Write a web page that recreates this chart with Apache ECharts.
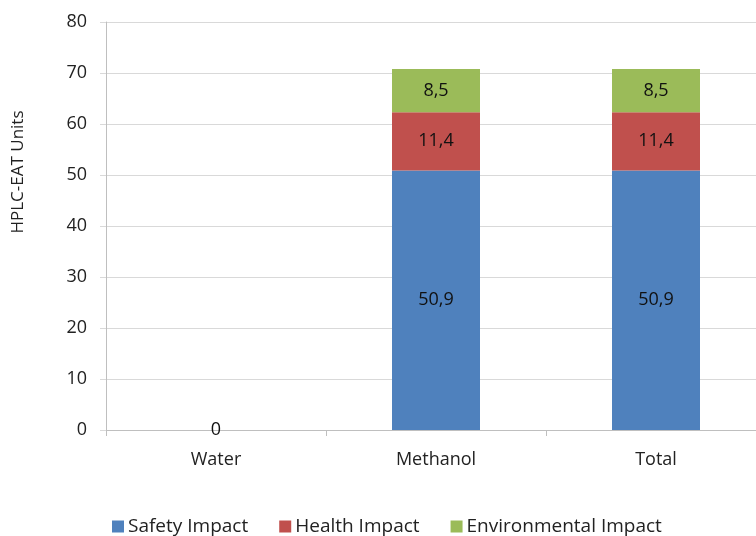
<!DOCTYPE html>
<html>
<head>
<meta charset="utf-8">
<script src="https://cdn.jsdelivr.net/npm/echarts@6/dist/echarts.min.js"></script>
<style>
html,body{margin:0;padding:0;background:#fff;overflow:hidden;}
#chart{width:766px;height:536px;}
</style>
</head>
<body>
<div id="chart"></div>
<script>
// Solvent impact breakdown (HPLC-EAT units)
const categories = ['Water', 'Methanol', 'Total'];
const safetyImpact = [0, 50.9, 50.9];
const healthImpact = [0, 11.4, 11.4];
const environmentalImpact = [0, 8.5, 8.5];
const yTicks = [0, 10, 20, 30, 40, 50, 60, 70, 80];
const yTitle = 'HPLC-EAT Units';

const FONT = '"Open Sans", "Liberation Sans", sans-serif';
const fmt = v => String(v).replace('.', ',');

function labelCfg(showZero) {
  return {
    show: true,
    position: 'inside',
    color: '#111',
    fontFamily: FONT,
    fontSize: 18,
    formatter: p => {
      if (p.value === 0) return showZero ? '0' : '';
      return fmt(p.value);
    }
  };
}

const chart = echarts.init(document.getElementById('chart'), null, { renderer: 'canvas' });
chart.setOption({
  animation: false,
  textStyle: { fontFamily: FONT },
  grid: { left: 106, top: 22, right: 0, bottom: 106, containLabel: false },
  graphic: [{
    type: 'text',
    x: 18,
    y: 172,
    rotation: Math.PI / 2,
    style: {
      text: yTitle,
      fill: '#222',
      font: '17px ' + FONT,
      textAlign: 'center',
      textVerticalAlign: 'middle'
    }
  }],
  legend: {
    top: 517,
    left: 112,
    padding: 0,
    itemWidth: 12,
    itemHeight: 12,
    itemGap: 31,
    icon: 'rect',
    textStyle: { fontFamily: FONT, fontSize: 19, color: '#222', padding: [0, 0, 0, -1] },
    data: ['Safety Impact', 'Health Impact', 'Environmental Impact']
  },
  xAxis: {
    type: 'category',
    data: categories,
    axisLine: { lineStyle: { color: '#BFBFBF', width: 1 } },
    axisTick: { show: true, length: 6, lineStyle: { color: '#BFBFBF' } },
    axisLabel: { color: '#222', fontFamily: FONT, fontSize: 18, margin: 21 }
  },
  yAxis: {
    type: 'value',
    min: yTicks[0],
    max: yTicks[yTicks.length - 1],
    interval: 10,
    axisLine: { show: true, lineStyle: { color: '#BFBFBF' } },
    axisTick: { show: true, length: 6, lineStyle: { color: '#D9D9D9' } },
    axisLabel: { color: '#222', fontFamily: FONT, fontSize: 18, margin: 19 },
    splitLine: { lineStyle: { color: '#D9D9D9' } }
  },
  series: [
    {
      name: 'Safety Impact', type: 'bar', stack: 'impact', barWidth: 88,
      data: safetyImpact,
      itemStyle: { color: '#4F81BD' },
      label: labelCfg(false)
    },
    {
      name: 'Health Impact', type: 'bar', stack: 'impact',
      data: healthImpact,
      itemStyle: { color: '#C0504D' },
      label: labelCfg(false)
    },
    {
      name: 'Environmental Impact', type: 'bar', stack: 'impact',
      data: environmentalImpact,
      itemStyle: { color: '#9BBB59' },
      label: labelCfg(true)
    }
  ]
});
</script>
</body>
</html>
